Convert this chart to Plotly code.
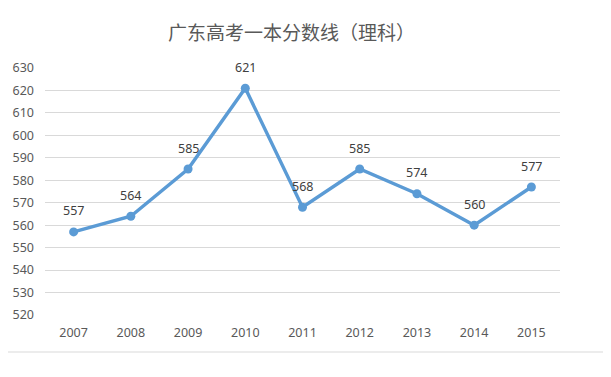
import plotly.graph_objects as go

years = ["2007", "2008", "2009", "2010", "2011", "2012", "2013", "2014", "2015"]
scores = [557, 564, 585, 621, 568, 585, 574, 560, 577]
y_ticks = [520, 530, 540, 550, 560, 570, 580, 590, 600, 610, 620, 630]
title_text = "广东高考一本分数线（理科）"

fig = go.Figure()
fig.add_trace(go.Scatter(
    x=years, y=scores,
    mode="lines+markers",
    line=dict(color="#5B9BD5", width=3.4),
    marker=dict(color="#5B9BD5", size=9),
    cliponaxis=False,
    hoverinfo="skip",
))
for i, v in enumerate(scores):
    fig.add_annotation(x=i, y=v, xref="x", yref="y", text=str(v), showarrow=False,
                       yshift=21, font=dict(size=12.5, color="#404040"))

fig.update_layout(
    width=603, height=369,
    margin=dict(l=37, r=51, t=60, b=62, autoexpand=False),
    paper_bgcolor="white", plot_bgcolor="white",
    showlegend=False,
    title=dict(text=title_text, x=0.47, xanchor="center", y=0.932, yanchor="middle",
               font=dict(size=19, color="#595959", family="Noto Sans CJK SC, sans-serif")),
    font=dict(family="Noto Sans, Open Sans, sans-serif", color="#595959", size=12),
)
fig.update_xaxes(
    type="category", range=[-0.5, 8.5], automargin=False,
    showgrid=False, showline=False, zeroline=False,
    ticks="", ticklabelstandoff=8,
    tickfont=dict(size=12.5, color="#595959"),
)
fig.update_yaxes(
    range=[520, 630], tickvals=y_ticks, automargin=False,
    showgrid=True, gridcolor="#D9D9D9", gridwidth=1,
    showline=False, zeroline=False, ticks="",
    ticklabelstandoff=10,
    tickfont=dict(size=12.5, color="#595959"),
)

# decorative frame line below chart (spreadsheet border)
fig.add_shape(type="line", xref="paper", yref="paper",
              x0=-37/515, x1=1.1, y0=-37/247, y1=-37/247,
              line=dict(color="#D9D9D9", width=1))

fig.write_html("out.html")
